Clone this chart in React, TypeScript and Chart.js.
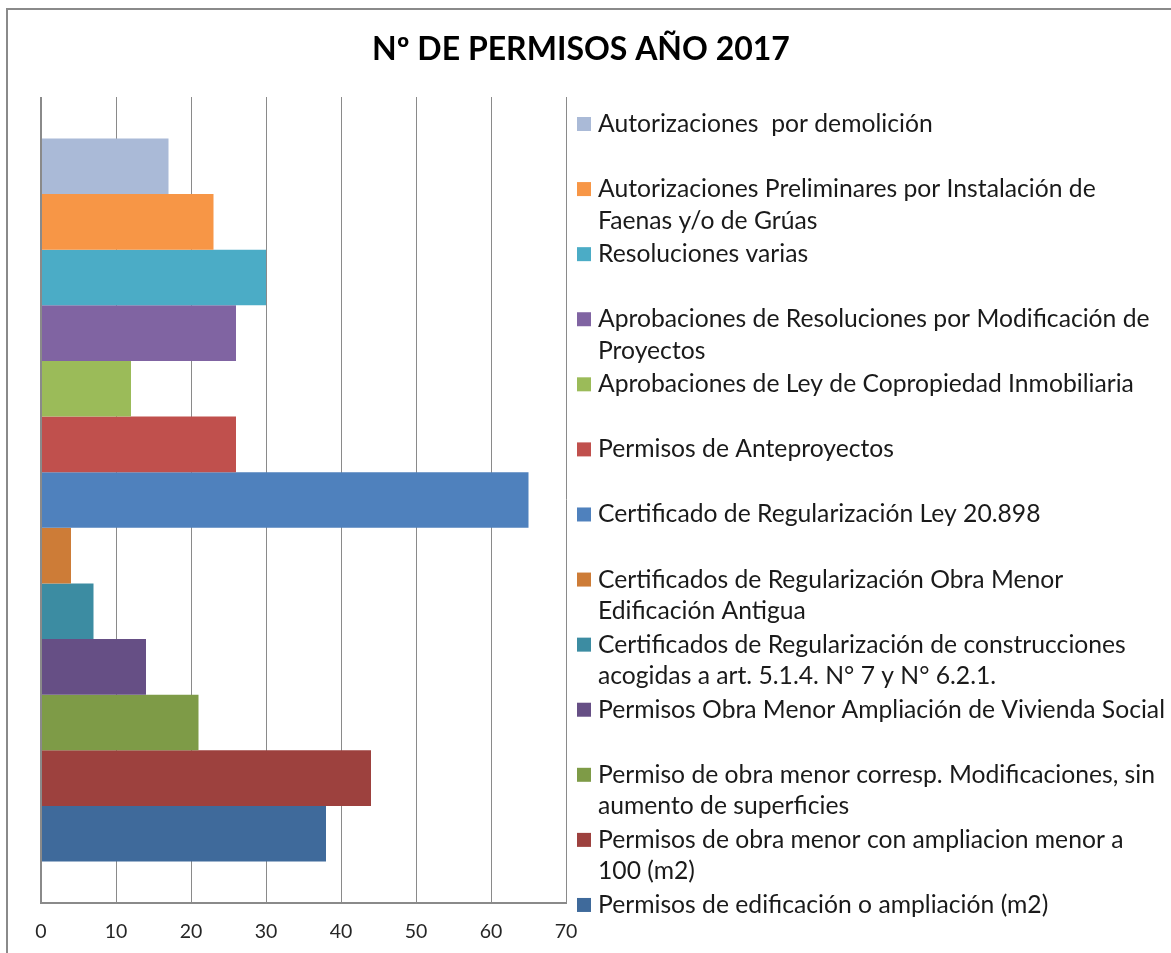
import React, { useEffect, useRef } from "react";
import { Chart, registerables } from "chart.js";

Chart.register(...registerables);

const TITLE = "Nº DE PERMISOS AÑO 2017";

const categories = [""];

const seriesNames: string[][] = [
  ["Autorizaciones  por demolición"],
  ["Autorizaciones Preliminares por Instalación de", "Faenas y/o de Grúas"],
  ["Resoluciones varias"],
  ["Aprobaciones de Resoluciones por Modificación de", "Proyectos"],
  ["Aprobaciones de Ley de Copropiedad Inmobiliaria"],
  ["Permisos de Anteproyectos"],
  ["Certificado de Regularización Ley 20.898"],
  ["Certificados de Regularización Obra Menor", "Edificación Antigua"],
  ["Certificados de Regularización de construcciones", "acogidas a art. 5.1.4. N° 7 y N° 6.2.1."],
  ["Permisos Obra Menor Ampliación de Vivienda Social"],
  ["Permiso de obra menor corresp. Modificaciones, sin", "aumento de superficies"],
  ["Permisos de obra menor con ampliacion menor a", "100 (m2)"],
  ["Permisos de edificación o ampliación (m2)"],
];

const seriesValues = [17, 23, 30, 26, 12, 26, 65, 4, 7, 14, 21, 44, 38];

const seriesColors = [
  "#AABAD7",
  "#F79646",
  "#4BACC6",
  "#8064A2",
  "#9BBB59",
  "#C0504D",
  "#4F81BD",
  "#CD7C37",
  "#3C8CA2",
  "#664F85",
  "#7E9B47",
  "#9D413E",
  "#3F6A9B",
];

const xMin = 0;
const xMax = 70;
const xStep = 10;

const FONT = "Lato";

const decorPlugin = {
  id: "decor",
  beforeDraw(chart: any) {
    const ctx = chart.ctx;
    ctx.save();
    ctx.fillStyle = "#ffffff";
    ctx.fillRect(0, 0, chart.width, chart.height);
    ctx.strokeStyle = "#8a8a8a";
    ctx.lineWidth = 2;
    ctx.beginPath();
    ctx.moveTo(7, chart.height);
    ctx.lineTo(7, 9);
    ctx.lineTo(chart.width, 9);
    ctx.stroke();
    ctx.restore();
  },
  afterDraw(chart: any) {
    const ctx = chart.ctx;
    ctx.save();
    // title
    ctx.fillStyle = "#000000";
    ctx.font = `bold 32px ${FONT}`;
    ctx.textAlign = "center";
    ctx.textBaseline = "alphabetic";
    ctx.fillText(TITLE, 581, 60);
    // legend
    const markerX = 577;
    const textX = 598;
    const base0 = 132;
    const step = 65.08;
    const lh = 31.5;
    ctx.font = `24.7px ${FONT}`;
    ctx.textAlign = "left";
    seriesNames.forEach((lines, i) => {
      const by = base0 + i * step;
      ctx.fillStyle = seriesColors[i];
      ctx.fillRect(markerX, by - 15, 14, 14);
      ctx.fillStyle = "#1a1a1a";
      lines.forEach((t, j) => ctx.fillText(t, textX, by + j * lh));
    });
    ctx.restore();
  },
};

export default function App() {
  const ref = useRef<HTMLCanvasElement | null>(null);

  useEffect(() => {
    if (!ref.current) return;
    const chart = new Chart(ref.current, {
      type: "bar",
      data: {
        labels: categories,
        datasets: seriesNames.map((lines, i) => ({
          label: lines.join(" "),
          data: [seriesValues[i]],
          backgroundColor: seriesColors[i],
          borderWidth: 0,
          categoryPercentage: 0.897,
          barPercentage: 1,
        })),
      },
      options: {
        indexAxis: "y",
        animation: false,
        responsive: false,
        devicePixelRatio: 1,
        layout: { padding: { top: 97, left: 41, right: 605, bottom: 0 } },
        plugins: {
          legend: { display: false },
          title: { display: false },
          tooltip: { enabled: false },
        },
        scales: {
          y: {
            type: "category",
            display: false,
          },
          x: {
            type: "linear",
            min: xMin,
            max: xMax,
            afterFit: (scale: any) => {
              scale.height = 50;
            },
            grid: {
              color: "#8a8a8a",
              lineWidth: (c: any) => (c.tick && c.tick.value === 0 ? 2 : 1),
              drawTicks: false,
            },
            border: { display: true, color: "#8a8a8a", width: 2 },
            ticks: {
              stepSize: xStep,
              padding: 17,
              color: "#262626",
              font: { family: FONT, size: 19.5 },
            },
          },
        },
      } as any,
      plugins: [decorPlugin],
    });
    return () => chart.destroy();
  }, []);

  return (
    <div style={{ position: "fixed", left: 0, top: 0, width: 1171, height: 953, background: "#fff" }}>
      <canvas ref={ref} width={1171} height={953} style={{ width: 1171, height: 953, display: "block" }} />
    </div>
  );
}
